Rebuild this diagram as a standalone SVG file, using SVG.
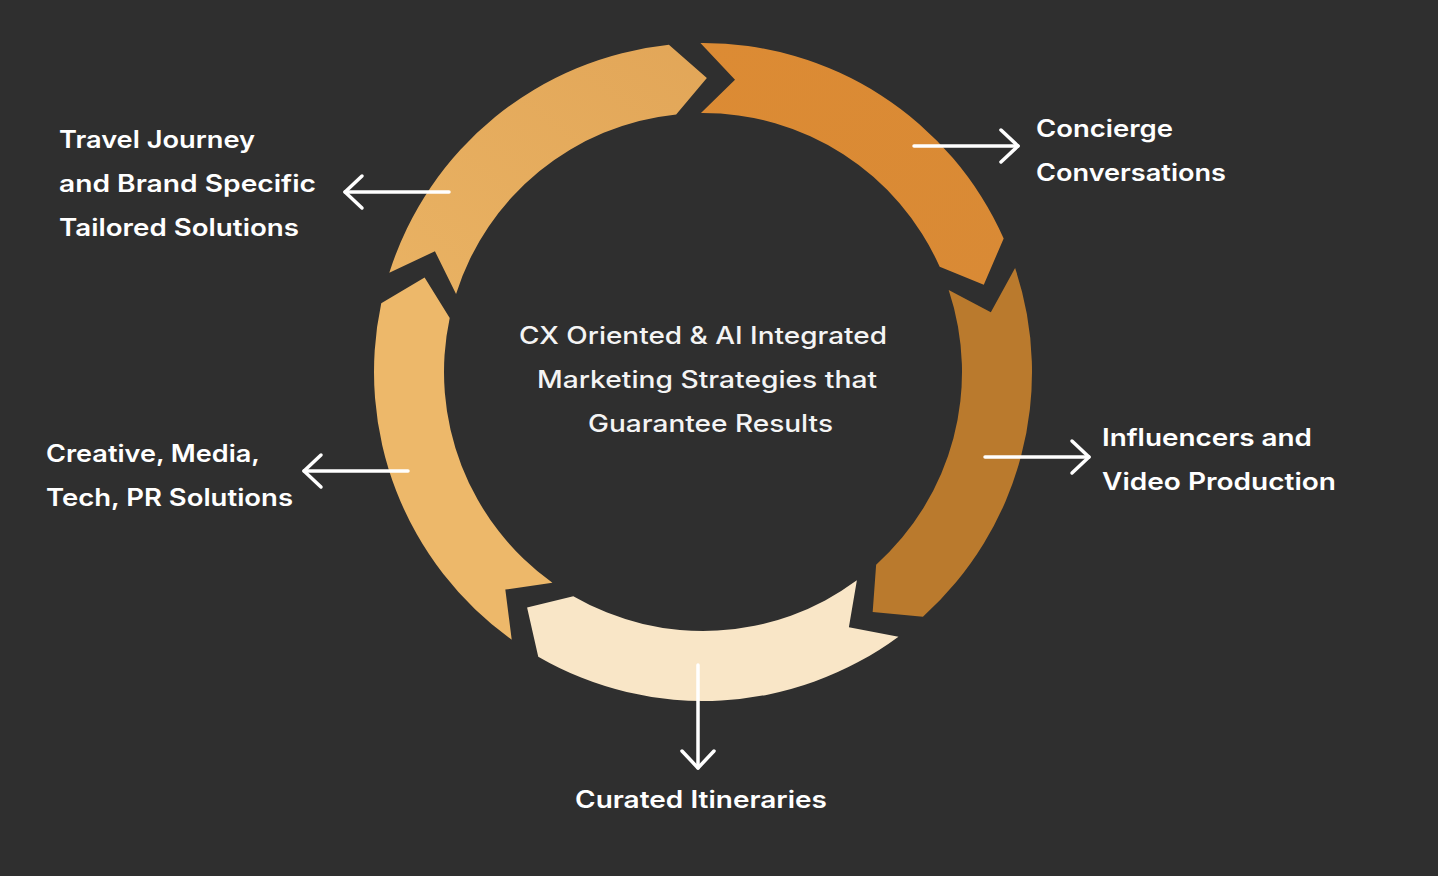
<svg xmlns="http://www.w3.org/2000/svg" width="1438" height="876" viewBox="0 0 1438 876">
  <defs>
    <style>
      .lbl { font-family: Inter, "Open Sans", "Liberation Sans", sans-serif; font-weight: 600; font-size: 24px; fill: #ffffff; }
      .ctr { font-family: Inter, "Open Sans", "Liberation Sans", sans-serif; font-weight: 500; font-size: 24px; fill: #f4f4f4; }
      .con { fill: none; stroke: #ffffff; stroke-width: 3.5; stroke-linecap: round; }
    </style>
    <marker id="arr" viewBox="-22 -20 26 40" refX="0" refY="0" markerWidth="26" markerHeight="40" markerUnits="userSpaceOnUse" orient="auto">
      <path d="M-17,-16 L0,0 L-17,16" fill="none" stroke="#ffffff" stroke-width="3.5" stroke-linecap="round" stroke-linejoin="round"/>
    </marker>
    <linearGradient id="gTL" x1="0" y1="1" x2="1" y2="0">
      <stop offset="0" stop-color="#E9B263"/>
      <stop offset="1" stop-color="#E2A658"/>
    </linearGradient>
    <linearGradient id="gTR" x1="0" y1="0" x2="1" y2="1">
      <stop offset="0" stop-color="#DC8B34"/>
      <stop offset="1" stop-color="#D98A35"/>
    </linearGradient>
  </defs>
  <rect width="1438" height="876" fill="#2F2F2F"/>

  <g id="seg-travel">
    <path fill="url(#gTL)" d="M389.31,272.80 A329,329 0 0 1 668.89,44.77 L706.85,78.03 L676.15,114.40 A259,259 0 0 0 456.06,293.90 L434.94,251.25 Z"/>
  </g>
  <g id="seg-concierge">
    <path fill="url(#gTR)" d="M700.42,43.01 A329,329 0 0 1 1003.67,238.45 L983.78,284.82 L939.70,266.87 A259,259 0 0 0 700.97,113.01 L735.01,79.75 Z"/>
  </g>
  <g id="seg-influencers">
    <path fill="#BA7A2D" d="M1015.09,267.88 A329,329 0 0 1 922.93,616.69 L872.68,612.09 L876.14,564.63 A259,259 0 0 0 948.69,290.03 L990.84,312.13 Z"/>
  </g>
  <g id="seg-curated">
    <path fill="#F9E6C7" d="M898.47,636.64 A329,329 0 0 1 538.25,656.78 L527.09,607.57 L573.30,596.19 A259,259 0 0 0 856.88,580.33 L848.89,627.25 Z"/>
  </g>
  <g id="seg-creative">
    <path fill="#EDB86A" d="M511.72,639.68 A329,329 0 0 1 381.25,303.31 L424.60,277.50 L449.71,317.93 A259,259 0 0 0 552.41,582.72 L505.32,589.62 Z"/>
  </g>

  <g id="center-text">
    <text class="ctr" x="703" y="344" text-anchor="middle" textLength="368" lengthAdjust="spacingAndGlyphs">CX Oriented &amp; AI Integrated</text>
    <text class="ctr" x="707" y="388" text-anchor="middle" textLength="340" lengthAdjust="spacingAndGlyphs">Marketing Strategies that</text>
    <text class="ctr" x="710.5" y="432" text-anchor="middle" textLength="245" lengthAdjust="spacingAndGlyphs">Guarantee Results</text>
  </g>

  <g id="connectors">
    <line class="con" x1="449" y1="192" x2="345" y2="192" marker-end="url(#arr)"/>
    <line class="con" x1="914" y1="146" x2="1018" y2="146" marker-end="url(#arr)"/>
    <line class="con" x1="985" y1="457" x2="1089" y2="457" marker-end="url(#arr)"/>
    <line class="con" x1="698" y1="665" x2="698" y2="768" marker-end="url(#arr)"/>
    <line class="con" x1="408" y1="471" x2="304" y2="471" marker-end="url(#arr)"/>
  </g>

  <g id="label-travel">
    <text class="lbl" x="59" y="148" textLength="196" lengthAdjust="spacingAndGlyphs">Travel Journey</text>
    <text class="lbl" x="59" y="192" textLength="257" lengthAdjust="spacingAndGlyphs">and Brand Specific</text>
    <text class="lbl" x="59" y="236" textLength="240" lengthAdjust="spacingAndGlyphs">Tailored Solutions</text>
  </g>
  <g id="label-concierge">
    <text class="lbl" x="1036" y="137" textLength="137" lengthAdjust="spacingAndGlyphs">Concierge</text>
    <text class="lbl" x="1036" y="181" textLength="190" lengthAdjust="spacingAndGlyphs">Conversations</text>
  </g>
  <g id="label-influencers">
    <text class="lbl" x="1102" y="446" textLength="210" lengthAdjust="spacingAndGlyphs">Influencers and</text>
    <text class="lbl" x="1102" y="490" textLength="234" lengthAdjust="spacingAndGlyphs">Video Production</text>
  </g>
  <g id="label-curated">
    <text class="lbl" x="701" y="808" text-anchor="middle" textLength="252" lengthAdjust="spacingAndGlyphs">Curated Itineraries</text>
  </g>
  <g id="label-creative">
    <text class="lbl" x="46" y="462" textLength="214" lengthAdjust="spacingAndGlyphs">Creative, Media,</text>
    <text class="lbl" x="46" y="506" textLength="247" lengthAdjust="spacingAndGlyphs">Tech, PR Solutions</text>
  </g>
</svg>
